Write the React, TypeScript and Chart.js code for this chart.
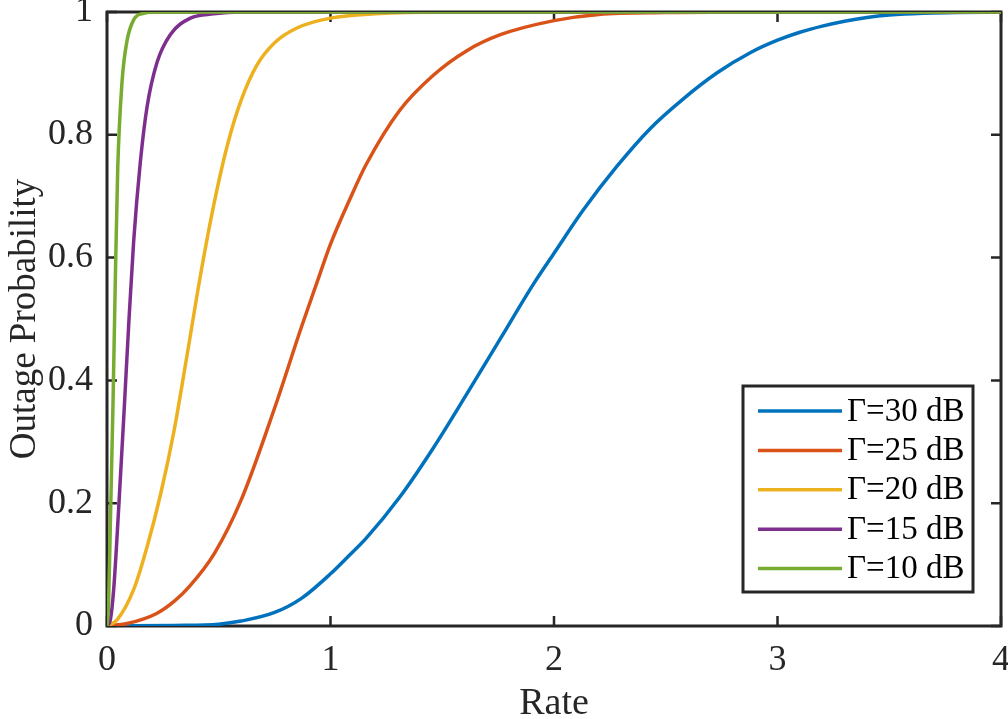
import React, { useEffect, useRef } from 'react';
import { Chart, registerables } from 'chart.js';

Chart.register(...registerables);

const seriesLabels = ['Γ=30 dB', 'Γ=25 dB', 'Γ=20 dB', 'Γ=15 dB', 'Γ=10 dB'];
const seriesColors = ['#0072BD', '#D95319', '#EDB120', '#7E2F8E', '#77AC30'];

const rate30 = [0, 0.3, 0.5, 0.6, 0.75, 0.87, 1, 1.07, 1.16, 1.31, 1.46, 1.61, 1.76, 1.91, 2, 2.13, 2.28, 2.43, 2.58, 2.73, 2.88, 3, 3.1, 3.2, 3.3, 3.4, 3.5, 3.65, 3.8, 4];
const outage30 = [0, 0.001, 0.003, 0.008, 0.022, 0.045, 0.085, 0.11, 0.143, 0.21, 0.29, 0.378, 0.468, 0.558, 0.607, 0.677, 0.748, 0.81, 0.859, 0.901, 0.934, 0.954, 0.967, 0.977, 0.985, 0.991, 0.995, 0.998, 0.999, 1];

const rate25 = [0, 0.09, 0.22, 0.3, 0.37, 0.48, 0.6, 0.75, 0.87, 0.94, 1, 1.09, 1.16, 1.31, 1.46, 1.61, 1.76, 2, 2.2, 2.5, 3, 4];
const outage25 = [0, 0.004, 0.02, 0.04, 0.065, 0.118, 0.205, 0.355, 0.487, 0.56, 0.622, 0.698, 0.752, 0.84, 0.897, 0.937, 0.963, 0.986, 0.996, 0.999, 1, 1];

const rate20 = [0, 0.045, 0.12, 0.18, 0.24, 0.3, 0.36, 0.42, 0.48, 0.54, 0.6, 0.67, 0.75, 0.85, 1, 1.2, 1.5, 4];
const outage20 = [0, 0.01, 0.06, 0.13, 0.215, 0.318, 0.445, 0.575, 0.69, 0.785, 0.856, 0.913, 0.95, 0.974, 0.99, 0.997, 1, 1];

const rate15 = [0, 0.015, 0.03, 0.052, 0.075, 0.097, 0.119, 0.149, 0.179, 0.224, 0.283, 0.373, 0.477, 0.6, 4];
const outage15 = [0, 0.01, 0.06, 0.19, 0.34, 0.49, 0.625, 0.755, 0.845, 0.918, 0.963, 0.99, 0.997, 1, 1];

const rate10 = [0, 0.007, 0.015, 0.027, 0.037, 0.048, 0.067, 0.089, 0.119, 0.164, 0.22, 4];
const outage10 = [0, 0.036, 0.167, 0.364, 0.56, 0.745, 0.885, 0.952, 0.987, 0.998, 1, 1];

const xTickValues = [0, 1, 2, 3, 4];
const yTickValues = [0, 0.2, 0.4, 0.6, 0.8, 1];

const seriesRates = [rate30, rate25, rate20, rate15, rate10];
const seriesOutages = [outage30, outage25, outage20, outage15, outage10];

const AXIS_COLOR = '#262626';
const FONT = 'Liberation Serif';

const framePlugin = {
  id: 'frame',
  beforeDatasetsDraw(chart: any) {
    const { ctx, chartArea } = chart;
    const { left, right, top, bottom } = chartArea;
    const xs = chart.scales.x;
    const ys = chart.scales.y;
    ctx.save();
    ctx.strokeStyle = AXIS_COLOR;
    ctx.lineWidth = 2.5;
    const L = 10;
    ctx.beginPath();
    xs.ticks.forEach((t: any) => {
      const px = xs.getPixelForValue(t.value);
      ctx.moveTo(px, bottom);
      ctx.lineTo(px, bottom - L);
      ctx.moveTo(px, top);
      ctx.lineTo(px, top + L);
    });
    ys.ticks.forEach((t: any) => {
      const py = ys.getPixelForValue(t.value);
      ctx.moveTo(left, py);
      ctx.lineTo(left + L, py);
      ctx.moveTo(right, py);
      ctx.lineTo(right - L, py);
    });
    ctx.stroke();
    ctx.lineWidth = 3;
    ctx.strokeRect(left, top, right - left, bottom - top);
    ctx.restore();
  },
};

const legendPlugin = {
  id: 'boxLegend',
  afterDatasetsDraw(chart: any) {
    const { ctx, chartArea } = chart;
    const w = 230;
    const h = 206;
    const bx = chartArea.right - 28 - w;
    const by = chartArea.bottom - 34 - h;
    ctx.save();
    ctx.fillStyle = '#ffffff';
    ctx.fillRect(bx, by, w, h);
    ctx.strokeStyle = AXIS_COLOR;
    ctx.lineWidth = 3;
    ctx.strokeRect(bx, by, w, h);
    ctx.font = `33px "${FONT}"`;
    ctx.textBaseline = 'middle';
    ctx.textAlign = 'left';
    chart.data.datasets.forEach((ds: any, i: number) => {
      const cy = by + 25 + i * 39.4;
      ctx.strokeStyle = ds.borderColor;
      ctx.lineWidth = 3.5;
      ctx.beginPath();
      ctx.moveTo(bx + 15, cy);
      ctx.lineTo(bx + 99, cy);
      ctx.stroke();
      ctx.fillStyle = '#000000';
      ctx.fillText(ds.label, bx + 104, cy + 1);
    });
    ctx.restore();
  },
};

export default function App() {
  const canvasRef = useRef<HTMLCanvasElement | null>(null);

  useEffect(() => {
    if (!canvasRef.current) return;
    const datasets = seriesLabels.map((label, i) => ({
      label,
      data: seriesRates[i].map((r, j) => ({ x: r, y: seriesOutages[i][j] })),
      borderColor: seriesColors[i],
      backgroundColor: seriesColors[i],
      borderWidth: 3.5,
      pointRadius: 0,
      fill: false,
      cubicInterpolationMode: 'monotone' as const,
      order: seriesLabels.length - i,
    }));

    const chart = new Chart(canvasRef.current, {
      type: 'line',
      data: { datasets },
      plugins: [framePlugin, legendPlugin],
      options: {
        animation: false,
        responsive: true,
        maintainAspectRatio: false,
        layout: { padding: { left: 0, right: 7, top: 12, bottom: 0 } },
        plugins: {
          legend: { display: false },
          tooltip: { enabled: false },
        },
        scales: {
          x: {
            type: 'linear',
            min: 0,
            max: 4,
            afterBuildTicks: (scale: any) => {
              scale.ticks = xTickValues.map((v) => ({ value: v }));
            },
            afterFit: (scale: any) => {
              scale.height = 93;
              scale.paddingLeft = 0;
              scale.paddingRight = 0;
            },
            border: { display: false },
            grid: { display: false, drawTicks: false },
            ticks: {
              padding: 13,
              color: AXIS_COLOR,
              font: { family: FONT, size: 36 },
              maxRotation: 0,
              callback: (v: any) => String(v),
            },
            title: {
              display: true,
              text: 'Rate',
              color: AXIS_COLOR,
              font: { family: FONT, size: 38, lineHeight: 0.8 },
              padding: { top: 0, bottom: 0 },
            },
          },
          y: {
            type: 'linear',
            min: 0,
            max: 1,
            afterBuildTicks: (scale: any) => {
              scale.ticks = yTickValues.map((v) => ({ value: v }));
            },
            afterFit: (scale: any) => {
              scale.width = 107;
              scale.paddingTop = 0;
              scale.paddingBottom = 0;
            },
            border: { display: false },
            grid: { display: false, drawTicks: false },
            ticks: {
              padding: 14,
              color: AXIS_COLOR,
              font: { family: FONT, size: 36 },
              callback: (v: any) => {
                const n = Number(v);
                if (n === 0 || n === 1) return String(n);
                return n.toFixed(1);
              },
            },
            title: {
              display: true,
              text: 'Outage Probability',
              color: AXIS_COLOR,
              font: { family: FONT, size: 37 },
              padding: { top: 3, bottom: 0 },
            },
          },
        },
      },
    });
    return () => chart.destroy();
  }, []);

  return (
    <div style={{ position: 'absolute', left: 0, top: 0, width: 1008, height: 719, background: '#ffffff' }}>
      <canvas ref={canvasRef} />
    </div>
  );
}
